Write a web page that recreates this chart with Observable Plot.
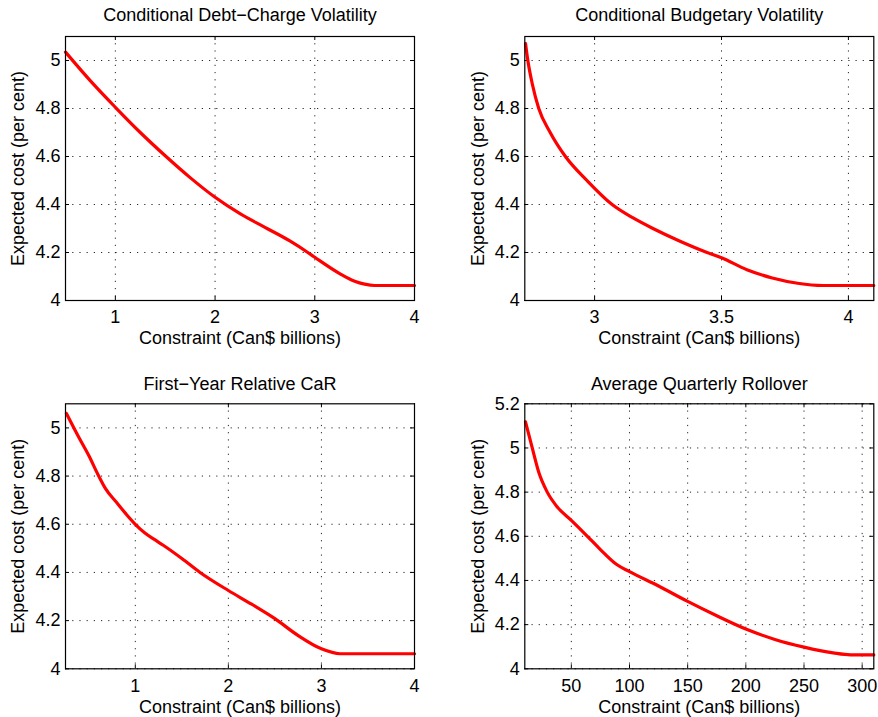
<!DOCTYPE html>
<html>
<head>
<meta charset="utf-8">
<script src="https://cdn.jsdelivr.net/npm/d3@7"></script>
<script src="https://cdn.jsdelivr.net/npm/@observablehq/plot@0.6"></script>
<style>
  html, body { margin: 0; padding: 0; background: #fff; }
  #root { position: relative; width: 878px; height: 717px; overflow: hidden; }
  .panel { position: absolute; }
</style>
</head>
<body>
<div id="root"></div>
<script>
// ---- Data ----
const titles = [
  "Conditional Debt\u2212Charge Volatility",
  "Conditional Budgetary Volatility",
  "First\u2212Year Relative CaR",
  "Average Quarterly Rollover"
];
const xLabel = "Constraint (Can$ billions)";
const yLabel = "Expected cost (per cent)";

// Panel 1
const p1X = [0.5, 0.75, 1.0, 1.25, 1.5, 1.75, 2.0, 2.25, 2.5, 2.75, 2.93, 3.0, 3.25, 3.4, 3.5, 3.6, 4.0];
const p1Y = [5.035, 4.915, 4.805, 4.70, 4.603, 4.512, 4.43, 4.362, 4.305, 4.248, 4.2, 4.18, 4.112, 4.08, 4.068, 4.0625, 4.0625];
const p1XTicks = [1, 2, 3, 4];
const p1YTicks = [4, 4.2, 4.4, 4.6, 4.8, 5];

// Panel 2
const p2X = [2.728, 2.737, 2.755, 2.78, 2.825, 2.885, 2.97, 3.069, 3.15, 3.23, 3.33, 3.443, 3.5, 3.6, 3.7, 3.8, 3.9, 4.1];
const p2Y = [5.07, 5.0, 4.9, 4.8, 4.7, 4.6, 4.5, 4.4, 4.345, 4.3, 4.25, 4.2, 4.178, 4.128, 4.094, 4.072, 4.0625, 4.0625];
const p2XTicks = [3, 3.5, 4];
const p2YTicks = [4, 4.2, 4.4, 4.6, 4.8, 5];

// Panel 3
const p3X = [0.26, 0.4, 0.5, 0.607, 0.68, 0.8, 0.9, 1.0, 1.1, 1.2, 1.3, 1.5, 1.696, 2.0, 2.25, 2.5, 2.75, 3.0, 3.2, 4.0];
const p3Y = [5.06, 4.956, 4.885, 4.8, 4.748, 4.69, 4.643, 4.6, 4.565, 4.538, 4.513, 4.458, 4.4, 4.325, 4.268, 4.208, 4.138, 4.083, 4.0625, 4.0625];
const p3XTicks = [1, 2, 3, 4];
const p3YTicks = [4, 4.2, 4.4, 4.6, 4.8, 5];

// Panel 4
const p4X = [10.6, 16.4, 22, 29.3, 37.9, 50, 63.8, 75, 89, 100, 125, 150, 175, 200, 225, 250, 275, 290, 310];
const p4Y = [5.118, 5.0, 4.89, 4.8, 4.733, 4.672, 4.6, 4.54, 4.472, 4.44, 4.375, 4.305, 4.24, 4.18, 4.133, 4.098, 4.072, 4.063, 4.063];
const p4XTicks = [50, 100, 150, 200, 250, 300];
const p4YTicks = [4, 4.2, 4.4, 4.6, 4.8, 5, 5.2];

const panels = [
  {xs: p1X, ys: p1Y, xDomain: [0.5, 4], yDomain: [4, 5.1], xTicks: p1XTicks, yTicks: p1YTicks,
   left: 0, top: 0, width: 439, height: 358, m: {top: 36, right: 25, bottom: 58, left: 65}, titleDy: -21},
  {xs: p2X, ys: p2Y, xDomain: [2.725, 4.1], yDomain: [4, 5.1], xTicks: p2XTicks, yTicks: p2YTicks,
   left: 439, top: 0, width: 439, height: 358, m: {top: 36, right: 4.7, bottom: 58, left: 85.3}, titleDy: -21},
  {xs: p3X, ys: p3Y, xDomain: [0.25, 4], yDomain: [4, 5.1], xTicks: p3XTicks, yTicks: p3YTicks,
   left: 0, top: 358, width: 439, height: 359, m: {top: 45.3, right: 25, bottom: 48.7, left: 65}, titleDy: -20},
  {xs: p4X, ys: p4Y, xDomain: [10, 310], yDomain: [4, 5.2], xTicks: p4XTicks, yTicks: p4YTicks,
   left: 439, top: 358, width: 439, height: 359, m: {top: 45.3, right: 4.7, bottom: 48.7, left: 85.3}, titleDy: -20}
];

const fmt = d => String(d);
const root = document.getElementById("root");

panels.forEach((p, i) => {
  const data = p.xs.map((x, k) => ({x, y: p.ys[k]}));
  const innerW = p.width - p.m.left - p.m.right;
  const innerH = p.height - p.m.top - p.m.bottom;
  const tl = 4;
  const chart = Plot.plot({
    width: p.width,
    height: p.height,
    marginTop: p.m.top, marginRight: p.m.right, marginBottom: p.m.bottom, marginLeft: p.m.left,
    style: {fontFamily: "'Liberation Sans', Arial, Helvetica, sans-serif", fontSize: "18px", color: "#000", background: "transparent", overflow: "visible"},
    x: {domain: p.xDomain, label: null},
    y: {domain: p.yDomain, label: null},
    marks: [
      Plot.gridX(p.xTicks, {stroke: "#000", strokeOpacity: 0.85, strokeWidth: 1, strokeDasharray: "1.2,6"}),
      Plot.gridY(p.yTicks, {stroke: "#000", strokeOpacity: 0.85, strokeWidth: 1, strokeDasharray: "1.2,6"}),
      Plot.tickX(p.xTicks, {x: d => d, insetTop: innerH - tl, stroke: "#000"}),
      Plot.tickX(p.xTicks, {x: d => d, insetBottom: innerH - tl, stroke: "#000"}),
      Plot.tickY(p.yTicks, {y: d => d, insetRight: innerW - tl, stroke: "#000"}),
      Plot.tickY(p.yTicks, {y: d => d, insetLeft: innerW - tl, stroke: "#000"}),
      Plot.line(data, {x: "x", y: "y", stroke: "#ff0000", strokeWidth: 3.2, curve: "monotone-x"}),
      Plot.frame({stroke: "#000", strokeWidth: 1.2}),
      Plot.axisX(p.xTicks, {tickSize: 0, tickPadding: 10, fontSize: 18, tickFormat: fmt, label: null}),
      Plot.axisY(p.yTicks, {tickSize: 0, tickPadding: 5, fontSize: 18, tickFormat: fmt, label: null}),
      Plot.text([titles[i]], {text: d => d, frameAnchor: "top", dy: p.titleDy, fontSize: 18, lineAnchor: "middle", textAnchor: "middle"}),
      Plot.text([xLabel], {text: d => d, frameAnchor: "bottom", dy: 38, fontSize: 18, lineAnchor: "middle", textAnchor: "middle"}),
      Plot.text([yLabel], {text: d => d, frameAnchor: "left", dx: -47, rotate: -90, fontSize: 18, lineAnchor: "middle", textAnchor: "middle"})
    ]
  });
  const div = document.createElement("div");
  div.className = "panel";
  div.style.left = p.left + "px";
  div.style.top = p.top + "px";
  div.appendChild(chart);
  root.appendChild(div);
});
</script>
</body>
</html>
